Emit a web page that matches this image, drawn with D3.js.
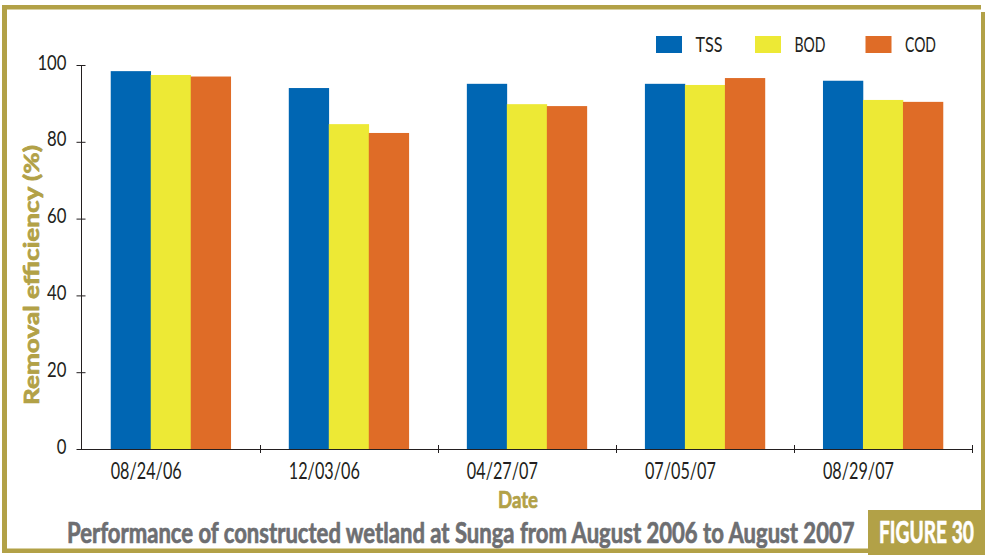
<!DOCTYPE html>
<html>
<head>
<meta charset="utf-8">
<script src="https://cdn.jsdelivr.net/npm/d3@7/dist/d3.min.js"></script>
<style>
  html, body { margin: 0; padding: 0; background: #fff; }
  svg { display: block; }
  text { font-family: Lato, "Open Sans", sans-serif; }
</style>
</head>
<body>
<svg id="chart" width="985" height="555"></svg>
<script>
// Sampling dates and removal efficiencies (%)
const dates = ["08/24/06", "12/03/06", "04/27/07", "07/05/07", "08/29/07"];
const seriesNames = ["TSS", "BOD", "COD"];
const tss = [98.4, 94.0, 95.1, 95.1, 95.9];
const bod = [97.4, 84.6, 89.8, 94.8, 90.9];
const cod = [97.0, 82.3, 89.3, 96.6, 90.4];
const yTicks = [0, 20, 40, 60, 80, 100];
const colors = ["#0066b3", "#ede935", "#df6c27"];

const olive = "#b2a147";
const ink = "#231f20";
const svg = d3.select("#chart");

// Narrow a tick/legend text to a given width
function squeeze(sel, w) {
  sel.attr("textLength", w).attr("lengthAdjust", "spacingAndGlyphs");
}

// Place a free-standing text at (px, py), rotated by rot, scaled horizontally to width w
function narrowText(parent, px, py, rot, w, str, attrs) {
  const g = parent.append("g");
  const t = g.append("text").text(str);
  Object.entries(attrs).forEach(([k, v]) => t.attr(k, v));
  const natural = t.node().getComputedTextLength();
  g.attr("transform", `translate(${px},${py}) rotate(${rot}) scale(${w / natural},1)`);
  return t;
}

// Frame
const frame = svg.append("g").attr("fill", olive);
frame.append("rect").attr("x", 2).attr("y", 5).attr("width", 979).attr("height", 4.5);
frame.append("rect").attr("x", 2).attr("y", 5).attr("width", 5).attr("height", 548);
frame.append("rect").attr("x", 2).attr("y", 548.5).attr("width", 983).attr("height", 4.5);
frame.append("rect").attr("x", 981).attr("y", 12).attr("width", 4).attr("height", 541);

const x = d3.scaleBand().domain(dates).range([81.7, 972]);
const xs = d3.scaleBand().domain(seriesNames).range([0, 120]);
const y = d3.scaleLinear().domain([0, 100]).range([449, 65]);
const groupOffset = (x.bandwidth() - 120) / 2;

const table = dates.map((d, i) => ({ date: d, values: [tss[i], bod[i], cod[i]] }));

// Bars
const groups = svg.append("g").selectAll("g").data(table).join("g")
  .attr("transform", d => `translate(${x(d.date) + groupOffset},0)`);
groups.selectAll("rect").data(d => d.values.map((v, k) => ({ k, v }))).join("rect")
  .attr("x", d => xs(seriesNames[d.k]))
  .attr("width", xs.bandwidth() + 0.3)
  .attr("y", d => y(d.v))
  .attr("height", d => y(0) - y(d.v))
  .attr("fill", d => colors[d.k]);

// Y axis
const yAxis = d3.axisLeft(y).tickValues(yTicks).tickSize(5).tickPadding(10);
const gy = svg.append("g").attr("transform", "translate(81.5,0)").call(yAxis);
gy.select(".domain").attr("stroke", ink).attr("d", `M0,${y(100)}V${y(0)}`);
gy.selectAll(".tick line").attr("x1", -5).attr("x2", 4).attr("stroke", ink);
gy.selectAll(".tick text").attr("font-size", 22).attr("fill", ink)
  .attr("font-family", null).attr("dy", null).attr("y", 4)
  .each(function (d) { squeeze(d3.select(this), String(d).length * 9.7); });

// X axis
const xAxis = d3.axisBottom(x).tickSize(0).tickPadding(0);
const gx = svg.append("g").attr("transform", "translate(0,449)").call(xAxis);
gx.select(".domain").attr("stroke", ink).attr("d", "M81.5,0.5H972");
gx.selectAll(".tick text").attr("font-size", 23).attr("fill", ink).attr("font-family", null)
  .attr("text-anchor", "start").attr("dy", null).attr("y", 30)
  .attr("x", groupOffset - x.bandwidth() / 2)
  .call(squeeze, 71);
// tick marks at band boundaries
gx.append("g").selectAll("line").data(dates.slice(1).map(d => x(d)).concat([x.range()[1]])).join("line")
  .attr("x1", d => Math.round(d) + 0.5).attr("x2", d => Math.round(d) + 0.5)
  .attr("y1", -4).attr("y2", 4).attr("stroke", ink);

// Axis titles (heavy weight: bold face plus a thin outline in the same colour)
const heavy = c => ({ "font-weight": "bold", fill: c, stroke: c, "stroke-width": 0.7, "stroke-linejoin": "round" });
narrowText(svg, 498, 508, 0, 40, "Date", { ...heavy(olive), "font-size": 23 });
narrowText(svg, 39, 405, -90, 260, "Removal efficiency (%)", { ...heavy(olive), "font-size": 21 });

// Legend
const legendX = [656, 755, 865.5];
const legendW = [27, 31, 31];
const lg = svg.append("g").selectAll("g").data(seriesNames).join("g")
  .attr("transform", (d, i) => `translate(${legendX[i]},36)`);
lg.append("rect").attr("width", 26).attr("height", 17).attr("fill", (d, i) => colors[i]);
lg.append("text").attr("x", 39.5).attr("y", 16).attr("font-size", 22).attr("fill", ink).text(d => d)
  .each(function (d, i) { squeeze(d3.select(this), legendW[i]); });

// Caption and figure tag
narrowText(svg, 67, 543, 0, 788, "Performance of constructed wetland at Sunga from August 2006 to August 2007",
  { ...heavy("#6d6e71"), "font-size": 28 });
svg.append("rect").attr("x", 868).attr("y", 510).attr("width", 117).attr("height", 45).attr("fill", olive);
narrowText(svg, 879, 543, 0, 95, "FIGURE 30", { ...heavy("#fff"), "font-size": 31 });
</script>
</body>
</html>
